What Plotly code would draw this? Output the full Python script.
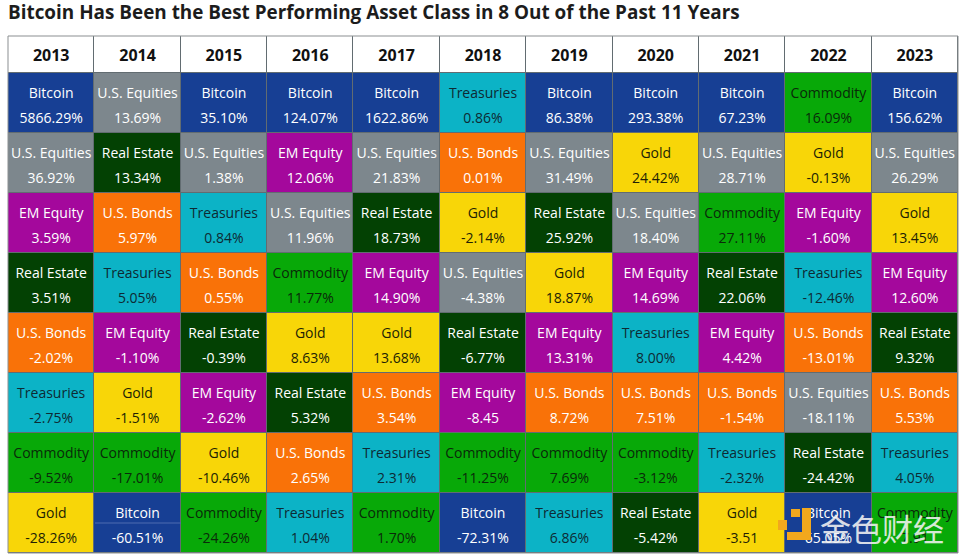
import plotly.graph_objects as go

TITLE = "Bitcoin Has Been the Best Performing Asset Class in 8 Out of the Past 11 Years"
YEARS = ["2013","2014","2015","2016","2017","2018","2019","2020","2021","2022","2023"]

BTC, EQ, RE, EM, BD, TR, CM, GD = "Bitcoin","U.S. Equities","Real Estate","EM Equity","U.S. Bonds","Treasuries","Commodity","Gold"

ASSETS = [
    [BTC, EQ, BTC, BTC, BTC, TR, BTC, BTC, BTC, CM, BTC],
    [EQ, RE, EQ, EM, EQ, BD, EQ, GD, EQ, GD, EQ],
    [EM, BD, TR, EQ, RE, GD, RE, EQ, CM, EM, GD],
    [RE, TR, BD, CM, EM, EQ, GD, EM, RE, TR, EM],
    [BD, EM, RE, GD, GD, RE, EM, TR, EM, BD, RE],
    [TR, GD, EM, RE, BD, EM, BD, BD, BD, EQ, BD],
    [CM, CM, GD, BD, TR, CM, CM, CM, TR, RE, TR],
    [GD, BTC, CM, TR, CM, BTC, TR, RE, GD, BTC, CM],
]
RETURNS = [
    ["5866.29%","13.69%","35.10%","124.07%","1622.86%","0.86%","86.38%","293.38%","67.23%","16.09%","156.62%"],
    ["36.92%","13.34%","1.38%","12.06%","21.83%","0.01%","31.49%","24.42%","28.71%","-0.13%","26.29%"],
    ["3.59%","5.97%","0.84%","11.96%","18.73%","-2.14%","25.92%","18.40%","27.11%","-1.60%","13.45%"],
    ["3.51%","5.05%","0.55%","11.77%","14.90%","-4.38%","18.87%","14.69%","22.06%","-12.46%","12.60%"],
    ["-2.02%","-1.10%","-0.39%","8.63%","13.68%","-6.77%","13.31%","8.00%","4.42%","-13.01%","9.32%"],
    ["-2.75%","-1.51%","-2.62%","5.32%","3.54%","-8.45","8.72%","7.51%","-1.54%","-18.11%","5.53%"],
    ["-9.52%","-17.01%","-10.46%","2.65%","2.31%","-11.25%","7.69%","-3.12%","-2.32%","-24.42%","4.05%"],
    ["-28.26%","-60.51%","-24.26%","1.04%","1.70%","-72.31%","6.86%","-5.42%","-3.51","65.05%","7.91"],
]
FILL = {"Header":"#ffffff", BTC:"#173f94", EQ:"#7d878d", RE:"#034103", EM:"#a4089c",
        BD:"#f97208", TR:"#0cb3c6", CM:"#08a908", GD:"#f8d608"}
INK = {BTC:"#ffffff", EQ:"#ffffff", RE:"#ffffff", EM:"#ffffff", BD:"#ffffff",
       TR:"#0e2a33", CM:"#0a2a0a", GD:"#221f05"}

W, H = 959, 554
L, R, T, B = 8, 1, 36, 1


def px(x):
    return (x - L) / (W - L - R)


def py(y):
    return 1 - (y - T) / (H - T - B)


KEYS = list(FILL)
n = len(KEYS) - 1
scale = []
for i, k in enumerate(KEYS):
    scale += [[i / (n + 1), FILL[k]], [(i + 1) / (n + 1), FILL[k]]]

z = [[0] * len(YEARS)] + [[KEYS.index(a) for a in row] for row in ASSETS]
yedges = [-37 / 60] + list(range(len(ASSETS) + 1))

fig = go.Figure()
fig.add_trace(go.Heatmap(z=z, x=YEARS, y=yedges, colorscale=scale, zmin=0, zmax=n + 1,
                         showscale=False, xgap=1, ygap=1, hoverinfo="skip"))
fig.add_trace(go.Scatter(x=YEARS, y=[-16 / 60] * len(YEARS), text=YEARS, mode="text",
                         textposition="middle center", hoverinfo="skip",
                         textfont=dict(family="Open Sans", size=16, color="#111111", weight="bold")))
xs, y1, y2, t1, t2, colors = [], [], [], [], [], []
for r, (names, vals) in enumerate(zip(ASSETS, RETURNS)):
    for yr, name, v in zip(YEARS, names, vals):
        xs.append(yr); y1.append(r + 21 / 60); y2.append(r + 46 / 60)
        t1.append(name); t2.append(v); colors.append(INK[name])
for ys, txt in ((y1, t1), (y2, t2)):
    fig.add_trace(go.Scatter(x=xs, y=ys, text=txt, mode="text", textposition="middle center",
                             hoverinfo="skip",
                             textfont=dict(family="Open Sans", size=14, color=colors)))

# watermark of the source image: logo blocks, wordmark, plus the stray line in one cell
LOGO = "#f2a81d"
shapes = [
    dict(type="rect", xref="paper", yref="paper", x0=px(x0), x1=px(x1), y0=py(y0), y1=py(y1),
         fillcolor=LOGO, line_width=0, layer="above")
    for x0, x1, y0, y1 in [(791, 800, 509, 517), (802, 811, 508, 540), (787, 811, 532, 540), (778, 787, 520, 530)]
]
shapes.append(dict(type="line", xref="paper", yref="paper", x0=px(95), x1=px(181), y0=py(523), y1=py(523),
                   line=dict(color="#4f6db0", width=1), layer="above"))
shapes.append(dict(type="rect", xref="paper", yref="paper", x0=0, x1=1, y0=0, y1=1,
                   line=dict(color="#8b8f91", width=1), fillcolor="rgba(0,0,0,0)", layer="above"))
fig.add_annotation(text="金色财经", xref="paper", yref="paper", x=px(946), y=py(527), xanchor="right",
                   yanchor="middle", showarrow=False, opacity=0.88,
                   font=dict(family="Noto Sans CJK SC", size=31, color="#f2f2f2"))

fig.update_layout(
    width=W, height=H, margin=dict(l=L, r=R, t=T, b=B), shapes=shapes,
    paper_bgcolor="#ffffff", plot_bgcolor="#626c71", showlegend=False,
    title=dict(text="<b>" + TITLE + "</b>", x=L / W, xanchor="left",
               y=1 - 12 / H, yanchor="middle",
               font=dict(family="Open Sans", size=18.9, color="#1c1c1c")),
    xaxis=dict(type="category", visible=False, categoryorder="array", categoryarray=YEARS,
               autorange=False, range=[-0.5, len(YEARS) - 0.5]),
    yaxis=dict(visible=False, autorange=False, range=[len(ASSETS), -37 / 60]),
)
fig.write_html("out.html", post_script="document.body.style.margin='0';",
               config={"displayModeBar": False})
